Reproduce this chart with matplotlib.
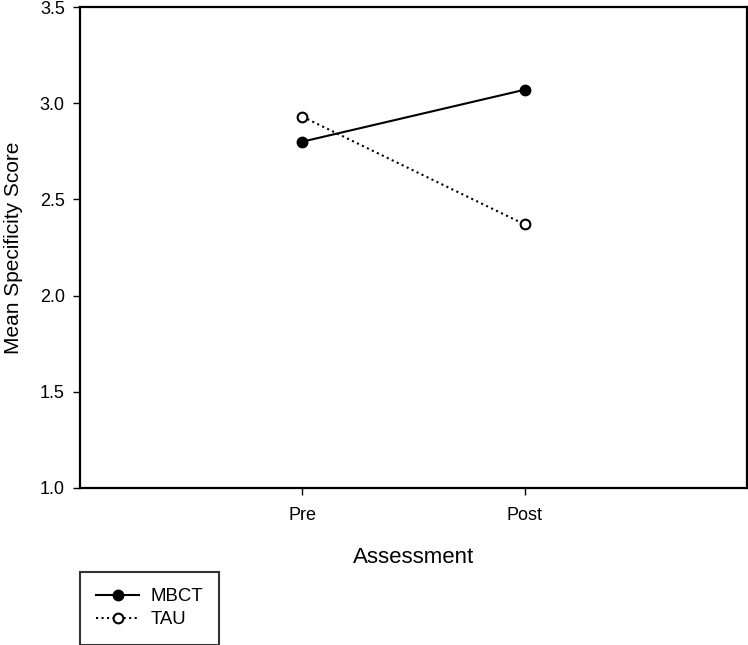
import matplotlib
matplotlib.use("Agg")
import matplotlib.pyplot as plt

plt.rcParams['font.family'] = ['Liberation Sans', 'DejaVu Sans']

assessments = ["Pre", "Post"]
mbct = [2.80, 3.07]
tau = [2.93, 2.37]
yticks = [1.0, 1.5, 2.0, 2.5, 3.0, 3.5]

fig = plt.figure(figsize=(7.48, 6.45), dpi=100)
ax = fig.add_axes([80/748, (645-488)/645, (747-80)/748, (488-7)/645])

xpos = [1, 2]
ax.plot(xpos, mbct, '-', color='black', lw=1.5, marker='o', ms=7.5,
        mfc='black', mec='black', label='MBCT')
ax.plot(xpos, tau, ':', color='black', lw=1.5, marker='o', ms=7,
        mfc='white', mec='black', mew=1.5, label='TAU')

ax.set_xlim(0, 3)
ax.set_ylim(1.0, 3.5)
ax.set_xticks(xpos)
ax.set_xticklabels(assessments)
ax.set_yticks(yticks)
ax.set_yticklabels([f"{v:.1f}" for v in yticks])
ax.tick_params(direction='out', length=5, width=1, labelsize=13, pad=6)
ax.tick_params(axis='x', pad=9)
for s in ax.spines.values():
    s.set_linewidth(1.6)

ax.set_xlabel("Assessment", fontsize=16, labelpad=16)
ax.set_ylabel("Mean Specificity Score", fontsize=15, labelpad=12)

leg = fig.legend(loc='upper left', bbox_to_anchor=(80/748, (645-572)/645),
                 bbox_transform=fig.transFigure, fontsize=13.4, frameon=True,
                 fancybox=False, handlelength=2.3, borderaxespad=0,
                 borderpad=0.88, labelspacing=0.32, handletextpad=0.6)
leg.get_frame().set_edgecolor('black')
leg.get_frame().set_linewidth(1.5)

fig.savefig("out.png", dpi=100)
